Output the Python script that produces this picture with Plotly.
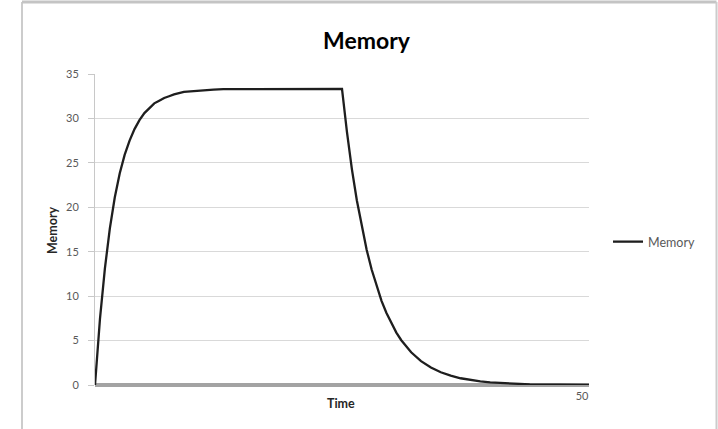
import plotly.graph_objects as go

time = [
    0, 0.5, 1, 1.5, 2, 2.5, 3, 3.5, 4, 4.5, 5, 5.5, 6, 6.5, 7, 7.5, 8, 9, 10,
    11, 12, 13, 14, 15, 16, 17, 18, 19, 20, 21, 22, 23, 24, 25,
    25.5, 26, 26.5, 27, 27.5, 28, 28.5, 29, 29.5, 30, 30.5, 31, 31.5, 32,
    33, 34, 35, 36, 37, 38, 39, 40, 41, 42, 43, 44, 45, 46, 47, 48, 49, 50,
]
memory = [
    0.0, 7.4, 13.1, 17.6, 21.1, 23.8, 25.9, 27.5, 28.8, 29.8, 30.6, 31.2,
    31.7, 32.0, 32.3, 32.5, 32.7, 33.0, 33.1,
    33.2, 33.25, 33.3, 33.3, 33.3, 33.3, 33.3, 33.3, 33.3, 33.3, 33.3, 33.3,
    33.3, 33.3, 33.33,
    28.5, 24.3, 20.8, 17.8, 15.2, 13.0, 11.1, 9.47, 8.1, 6.91, 5.9, 5.04,
    4.3, 3.68,
    2.69, 1.96, 1.43, 1.05, 0.76, 0.56, 0.41, 0.30, 0.22, 0.16, 0.12, 0.08,
    0.06, 0.04, 0.03, 0.02, 0.02, 0.01,
]
y_ticks = [0, 5, 10, 15, 20, 25, 30, 35]
x_ticks = [50]

W, H = 718, 429
L, R, T, B = 95, 589, 74, 385

def px(x):
    return (x - L) / (R - L)

def py(y):
    return (B - y) / (B - T)

fig = go.Figure()
fig.add_trace(go.Scatter(
    x=time, y=memory, mode="lines", name="Memory",
    line=dict(color="#1e1e1e", width=2.3), cliponaxis=False,
))

font_family = "Lato, 'Open Sans', sans-serif"
fig.update_layout(
    width=W, height=H,
    margin=dict(l=L, r=W - R, t=T, b=H - B),
    paper_bgcolor="white", plot_bgcolor="white",
    font=dict(family=font_family, size=11, color="#595959"),
    showlegend=True,
    legend=dict(x=px(608), y=py(242), xanchor="left", yanchor="middle",
                font=dict(size=12.5, color="#595959"), itemwidth=30,
                bgcolor="rgba(0,0,0,0)"),
    xaxis=dict(range=[0, 50], tickvals=x_ticks, showgrid=False, zeroline=False,
               showline=False, ticks="",
               tickfont=dict(size=11, color="#595959"),
               ticklabelshift=-7, ticklabelstandoff=3, fixedrange=True),
    yaxis=dict(range=[0, 35], tickvals=y_ticks, showgrid=True, gridcolor="#d9d9d9",
               gridwidth=1, zeroline=True, zerolinecolor="#a3a3a3", zerolinewidth=4,
               showline=True, linecolor="#c8c8c8",
               linewidth=1, ticks="outside", ticklen=6, tickcolor="#c8c8c8",
               tickfont=dict(size=11, color="#595959"), ticklabelstandoff=7,
               fixedrange=True),
    annotations=[
        dict(text="<b>Memory</b>", x=px(367), y=py(40), xref="paper", yref="paper",
             showarrow=False, font=dict(size=23, color="#000000", family=font_family),
             xanchor="center", yanchor="middle"),
        dict(text="<b>Time</b>", x=px(341), y=py(403), xref="paper", yref="paper",
             showarrow=False, font=dict(size=12.5, color="#262626", family=font_family),
             xanchor="center", yanchor="middle"),
        dict(text="<b>Memory</b>", x=px(52), y=py(230), xref="paper", yref="paper",
             showarrow=False, textangle=-90,
             font=dict(size=12.5, color="#262626", family=font_family),
             xanchor="center", yanchor="middle"),
    ],
    shapes=[
        dict(type="line", xref="paper", yref="paper", x0=px(22), x1=px(22),
             y0=py(440), y1=py(2), line=dict(color="#cccccc", width=2)),
        dict(type="line", xref="paper", yref="paper", x0=px(22), x1=px(716.5),
             y0=py(2), y1=py(2), line=dict(color="#c4c4c4", width=3)),
        dict(type="line", xref="paper", yref="paper", x0=px(716.5), x1=px(716.5),
             y0=py(440), y1=py(2), line=dict(color="#cccccc", width=2)),
    ],
)

fig.write_html("out.html")
